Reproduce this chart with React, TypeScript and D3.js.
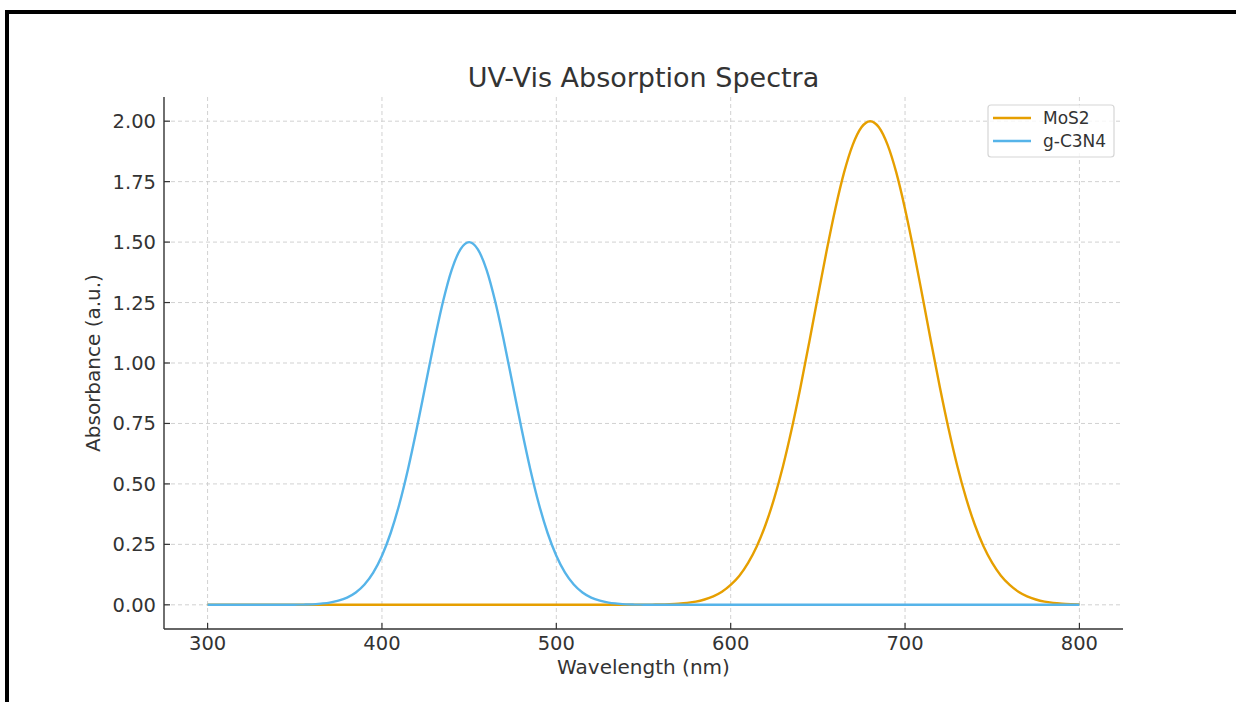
import React from "react";
import * as d3 from "d3";

const wavelengths = [300,305,310,315,320,325,330,335,340,345,350,355,360,365,370,375,380,385,390,395,400,405,410,415,420,425,430,435,440,445,450,455,460,465,470,475,480,485,490,495,500,505,510,515,520,525,530,535,540,545,550,555,560,565,570,575,580,585,590,595,600,605,610,615,620,625,630,635,640,645,650,655,660,665,670,675,680,685,690,695,700,705,710,715,720,725,730,735,740,745,750,755,760,765,770,775,780,785,790,795,800];
const mos2 = [0,0,0,0,0,0,0,0,0,0,0,0,0,0,0,0,0,0,0,0,0,0,0,0,0,0,0,0,0,0,0,0,0,0,0,0,0,0,0,0,0,0,0,0,0,0,0,0,0,0,0,
  0.0008,0.0015,0.003,0.005,0.008,0.013,0.022,0.035,0.054,0.082,0.120,0.173,0.242,0.331,0.441,0.573,0.727,0.899,1.084,1.275,1.463,1.637,1.787,1.902,1.975,2.0,
  1.975,1.902,1.787,1.637,1.463,1.275,1.084,0.899,0.727,0.573,0.441,0.331,0.242,0.173,0.120,0.082,0.054,0.035,0.022,0.013,0.008,0.005,0.003,0.0015];
const gc3n4 = [0,0,0,0,0,0,0,0,0,0,
  0.0005,0.001,0.002,0.005,0.009,0.017,0.030,0.051,0.084,0.133,0.203,0.297,0.417,0.563,0.730,0.910,1.089,1.253,1.385,1.470,1.5,
  1.470,1.385,1.253,1.089,0.910,0.730,0.563,0.417,0.297,0.203,0.133,0.084,0.051,0.030,0.017,0.009,0.005,0.002,0.001,0.0005,
  0,0,0,0,0,0,0,0,0,0,0,0,0,0,0,0,0,0,0,0,0,0,0,0,0,0,0,0,0,0,0,0,0,0,0,0,0,0,0,0,0,0,0,0,0,0,0,0,0,0];
const xTicks = [300, 400, 500, 600, 700, 800];
const yTicks = [0, 0.25, 0.5, 0.75, 1.0, 1.25, 1.5, 1.75, 2.0];
const seriesNames = ["MoS2", "g-C3N4"];
const seriesColors = ["#E69F00", "#56B4E9"];

export default function App() {
  const W = 1236, H = 702;
  const left = 164, right = 1123, top = 97, bottom = 629;
  const x = d3.scaleLinear().domain([275, 825]).range([left, right]);
  const y = d3.scaleLinear().domain([-0.1, 2.1]).range([bottom, top]);
  const line = d3.line<[number, number]>().x(d => x(d[0])).y(d => y(d[1])).curve(d3.curveMonotoneX);
  const series = [mos2, gc3n4];
  const font = "'DejaVu Sans', sans-serif";
  const textColor = "#333";
  return (
    <svg width={W} height={H} style={{ position: "absolute", left: 0, top: 0, background: "#fff" }} fontFamily={font}>
      <rect x={0} y={0} width={W} height={H} fill="#fff" />
      <rect x={7} y={12} width={W + 20} height={H + 20} fill="none" stroke="#000" strokeWidth={4} />
      {xTicks.map(t => (
        <line key={"gx" + t} x1={x(t)} x2={x(t)} y1={top} y2={bottom} stroke="#cccccc" strokeWidth={0.9} strokeDasharray="4,3" />
      ))}
      {yTicks.map(t => (
        <line key={"gy" + t} x1={left} x2={right} y1={y(t)} y2={y(t)} stroke="#cccccc" strokeWidth={0.9} strokeDasharray="4,3" />
      ))}
      {series.map((s, i) => (
        <path key={"s" + i} d={line(wavelengths.map((w, j) => [w, s[j]]) as [number, number][]) || ""} fill="none" stroke={seriesColors[i]} strokeWidth={2.4} />
      ))}
      <line x1={left} x2={left} y1={top} y2={bottom} stroke="#333" strokeWidth={1.4} />
      <line x1={left} x2={right} y1={bottom} y2={bottom} stroke="#333" strokeWidth={1.4} />
      {xTicks.map(t => (
        <g key={"xt" + t}>
          <line x1={x(t)} x2={x(t)} y1={bottom} y2={bottom - 6} stroke="#333" strokeWidth={1.2} />
          <text x={x(t)} y={650} fontSize={19.5} fill={textColor} textAnchor="middle">{t}</text>
        </g>
      ))}
      {yTicks.map(t => (
        <g key={"yt" + t}>
          <line x1={left} x2={left + 6} y1={y(t)} y2={y(t)} stroke="#333" strokeWidth={1.2} />
          <text x={156} y={y(t)} dy="0.36em" fontSize={19.5} fill={textColor} textAnchor="end">{t.toFixed(2)}</text>
        </g>
      ))}
      <text x={(left + right) / 2} y={87} fontSize={27} fill={textColor} textAnchor="middle">UV-Vis Absorption Spectra</text>
      <text x={(left + right) / 2} y={674} fontSize={20} fill={textColor} textAnchor="middle">Wavelength (nm)</text>
      <text transform={`translate(100,${(top + bottom) / 2}) rotate(-90)`} fontSize={20} fill={textColor} textAnchor="middle">Absorbance (a.u.)</text>
      <rect x={988} y={105} width={126} height={52} rx={3} fill="#fff" fillOpacity={0.8} stroke="#d6d6d6" strokeWidth={1.2} />
      {seriesNames.map((n, i) => (
        <g key={"lg" + i}>
          <line x1={993} x2={1031} y1={118 + i * 23} y2={118 + i * 23} stroke={seriesColors[i]} strokeWidth={2.4} />
          <text x={1043} y={118 + i * 23} dy="0.36em" fontSize={17} fill={textColor}>{n}</text>
        </g>
      ))}
    </svg>
  );
}
